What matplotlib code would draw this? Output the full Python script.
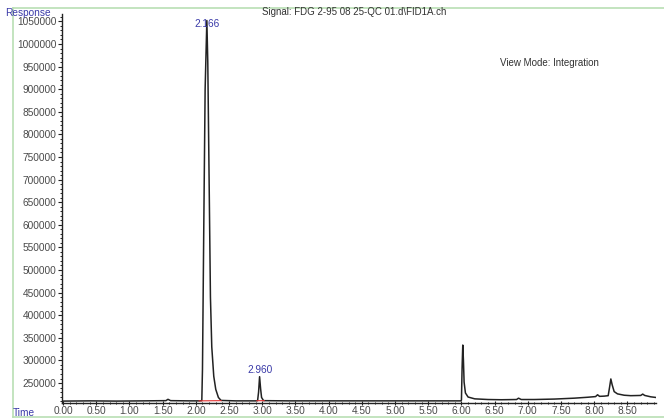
import matplotlib
matplotlib.use('Agg')
import matplotlib.pyplot as plt
from matplotlib.ticker import MultipleLocator
from matplotlib.lines import Line2D

# chromatogram trace (time in min, detector response)
tiempo = [0.00, 0.40, 0.80, 1.20, 1.55, 1.58, 1.62, 1.90, 2.05, 2.09, 2.10, 2.12,
          2.14, 2.166, 2.18, 2.20, 2.22, 2.24, 2.27, 2.30, 2.34, 2.38, 2.60, 2.90,
          2.93, 2.945, 2.96, 2.975, 2.99, 3.02, 3.40, 4.00, 4.60, 5.20, 5.80,
          5.99, 6.00, 6.01, 6.02, 6.03, 6.04, 6.06, 6.10, 6.20, 6.40, 6.60,
          6.83, 6.86, 6.90, 7.10, 7.40, 7.70, 7.90, 8.02, 8.05, 8.08, 8.15,
          8.21, 8.23, 8.25, 8.27, 8.30, 8.35, 8.45, 8.55, 8.70, 8.73, 8.76,
          8.85, 8.93]
respuesta = [210000, 210500, 210000, 210500, 211000, 214000, 211000, 210500,
             210500, 211000, 280000, 600000, 900000, 1052000, 960000, 700000,
             440000, 330000, 265000, 236000, 218000, 211500, 210500, 210500,
             211000, 230000, 264000, 238000, 218000, 211000, 210500, 210500,
             210500, 210500, 210500, 210500, 212000, 285000, 334000, 300000,
             252000, 228000, 219000, 215000, 213500, 213000, 213500, 216500,
             213500, 213500, 214500, 216500, 218500, 220000, 224000, 220500,
             221000, 222000, 240000, 259000, 246000, 231000, 226000, 223000,
             222000, 222500, 225500, 222500, 219500, 218000]

# integration baselines (red)
base_t = [[2.05, 2.38], [2.92, 3.03]]
base_r = [[210500, 211000], [210800, 211000]]

picos = [2.166, 2.960]
picos_lbl = ['2.166', '2.960']
picos_y = [1052000, 264000]

xticks = [0.0, 0.5, 1.0, 1.5, 2.0, 2.5, 3.0, 3.5, 4.0, 4.5, 5.0, 5.5, 6.0, 6.5,
          7.0, 7.5, 8.0, 8.5]
yticks = [250000, 300000, 350000, 400000, 450000, 500000, 550000, 600000,
          650000, 700000, 750000, 800000, 850000, 900000, 950000, 1000000, 1050000]

W, H = 664, 419
azul = '#3a3aa8'
gris = '#4a4a4a'
fs = 7.3
plt.rcParams['font.family'] = ['Liberation Sans', 'DejaVu Sans']

fig = plt.figure(figsize=(W / 100, H / 100), dpi=100)
ax = fig.add_axes([61.7 / W, 1 - 403 / H, (656 - 61.7) / W, (403 - 14) / H])

ax.plot(tiempo, respuesta, color='#222222', linewidth=1.1)
for bt, br in zip(base_t, base_r):
    ax.plot(bt, br, color='#e03030', linewidth=0.8)

ax.set_xlim(-0.02, 8.93)
ax.set_ylim(205800, 1066400)

ax.set_xticks(xticks)
ax.set_xticklabels(['%.2f' % t for t in xticks])
ax.set_yticks(yticks)
ax.set_yticklabels([str(v) for v in yticks])
ax.xaxis.set_minor_locator(MultipleLocator(0.1))
ax.yaxis.set_minor_locator(MultipleLocator(10000))

for s in ['top', 'right']:
    ax.spines[s].set_visible(False)
for s in ['left', 'bottom']:
    ax.spines[s].set_color('#222222')
    ax.spines[s].set_linewidth(1.0)

ax.tick_params(axis='both', which='major', labelsize=fs, colors='#222222',
               labelcolor=gris, length=3, width=0.8, pad=1)
ax.tick_params(axis='both', which='minor', colors='#222222', length=1.8, width=0.7)
ax.tick_params(axis='x', which='both', direction='inout')

# peak labels: first one sits on the apex, second a little above it
desfase = [-6, 1]
for t, lbl, yv, d in zip(picos, picos_lbl, picos_y, desfase):
    ax.annotate(lbl, (t, yv), xytext=(0, d), textcoords='offset points',
                ha='center', va='bottom', fontsize=fs, color=azul)

def ftext(x, y, s, **kw):
    fig.text(x / W, 1 - y / H, s, va='center', **kw)

ftext(5, 13, 'Response', fontsize=fs, color=azul)
ftext(13, 413, 'Time', fontsize=fs, color=azul)
ftext(262, 12, 'Signal: FDG 2-95 08 25-QC 01.d\\FID1A.ch', fontsize=7.0, color='#333333')
ftext(500, 63, 'View Mode: Integration', fontsize=7.0, color='#333333')

# light green frame lines of the screenshot
verde = '#b9dfb4'
fig.add_artist(Line2D([13 / W, 1], [1 - 8.5 / H, 1 - 8.5 / H], color=verde, linewidth=1.2))
fig.add_artist(Line2D([13 / W, 13 / W], [1 - 8.5 / H, 1 - 417 / H], color=verde, linewidth=1.2))
fig.add_artist(Line2D([13 / W, 1], [1 - 417 / H, 1 - 417 / H], color=verde, linewidth=1.2))

fig.savefig('out.png', dpi=100)
